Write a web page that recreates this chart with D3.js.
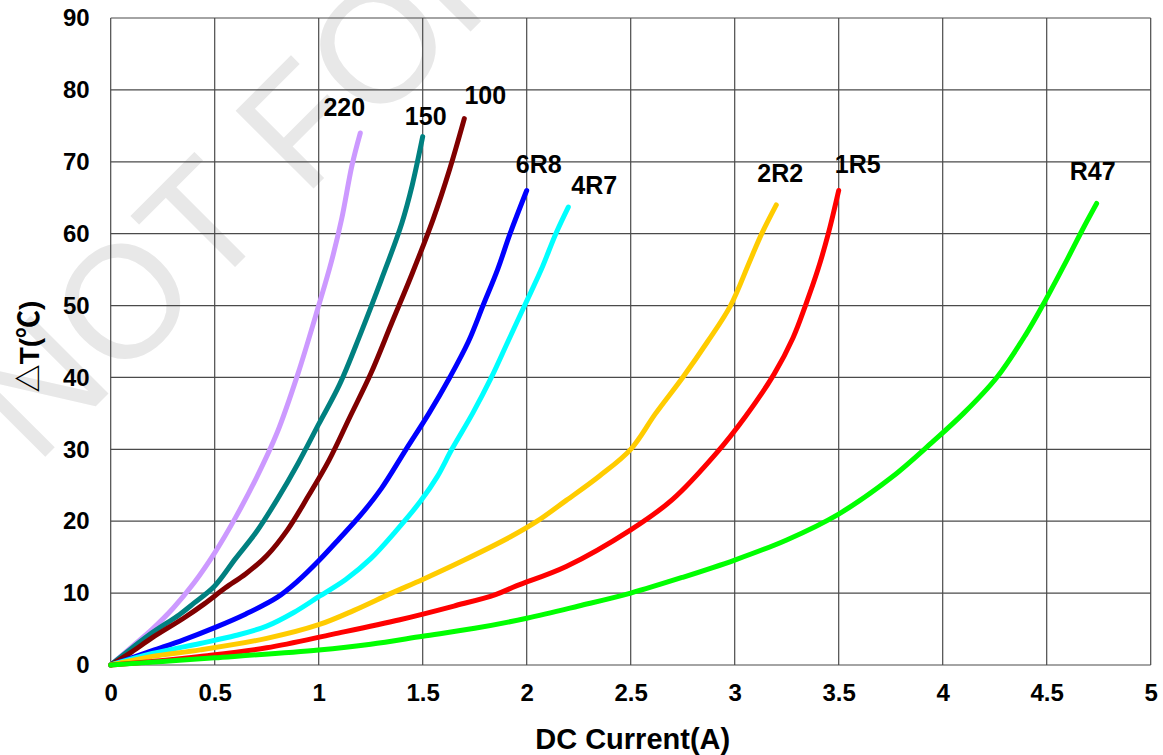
<!DOCTYPE html>
<html><head><meta charset="utf-8">
<script src="https://cdn.jsdelivr.net/npm/d3@7"></script>
<style>
html,body{margin:0;padding:0;background:#fff;}
svg{display:block;font-family:"Liberation Sans",Arial,sans-serif;}
</style></head><body>
<svg id="chart" width="1163" height="755"></svg>
<script>
// ---- data ----
const seriesNames = ["220","150","100","6R8","4R7","2R2","1R5","R47"];
const seriesColors = ["#CC99FF","#008080","#800000","#0000FF","#00FFFF","#FFCC00","#FF0000","#00FF00"];
const s220 = [[0,0],[0.1,2.5],[0.2,5],[0.3,7.9],[0.4,11.4],[0.5,15.6],[0.6,20.5],[0.7,26],[0.8,32.3],[0.9,40.5],[1.0,50],[1.06,56],[1.11,62],[1.16,69.5],[1.2,74]];
const s150 = [[0,0],[0.1,2.3],[0.2,4.5],[0.33,7],[0.4,8.6],[0.5,11],[0.6,14.8],[0.7,18.5],[0.8,23],[0.9,28],[1.0,33.5],[1.1,39],[1.2,46],[1.3,53.5],[1.4,61.5],[1.45,66.8],[1.5,73.5]];
const s100 = [[0,0],[0.1,1.8],[0.2,3.8],[0.35,6.5],[0.45,8.5],[0.55,10.7],[0.65,12.7],[0.75,15.2],[0.85,18.8],[0.95,23.5],[1.05,28.5],[1.15,34.5],[1.25,40.5],[1.35,47.5],[1.45,54.5],[1.55,62],[1.63,69],[1.7,76]];
const s6R8 = [[0,0],[0.2,2],[0.35,3.5],[0.5,5.2],[0.65,7.1],[0.8,9.4],[0.9,11.7],[1.0,14.5],[1.1,17.6],[1.2,20.8],[1.3,24.5],[1.42,30],[1.53,35],[1.63,40],[1.72,45],[1.79,50],[1.86,55],[1.92,60],[2.0,66]];
const s4R7 = [[0,0],[0.2,1.6],[0.43,3],[0.6,4.1],[0.75,5.4],[0.88,7.3],[1.0,9.5],[1.13,11.9],[1.25,14.8],[1.37,18.6],[1.49,22.8],[1.57,26.2],[1.64,30],[1.74,35],[1.83,40],[1.91,45],[1.99,50],[2.07,55],[2.14,60],[2.2,63.7]];
const s2R2 = [[0,0],[0.2,1.2],[0.43,2.1],[0.75,3.7],[1.0,5.6],[1.17,7.6],[1.35,10],[1.5,11.9],[1.7,14.6],[1.92,17.8],[2.05,20],[2.19,22.9],[2.35,26.3],[2.5,30],[2.62,35],[2.75,40],[2.87,45],[2.98,50],[3.07,56],[3.13,60],[3.2,64]];
const s1R5 = [[0,0],[0.2,0.5],[0.43,1.2],[0.75,2.4],[1.07,4.3],[1.39,6.3],[1.65,8.2],[1.85,9.8],[1.95,11],[2.19,13.7],[2.5,18.8],[2.7,23],[2.91,29.4],[3.05,34.5],[3.19,40.5],[3.28,45.5],[3.34,50],[3.4,55],[3.45,60],[3.5,66]];
const sR47 = [[0,0],[0.25,0.5],[0.5,1.0],[1.0,2.1],[1.25,2.9],[1.5,4.0],[1.75,5.1],[2.0,6.5],[2.25,8.2],[2.5,10],[2.75,12.2],[3.0,14.6],[3.25,17.4],[3.5,21],[3.75,26],[3.95,31],[4.1,35],[4.26,40],[4.4,46],[4.48,50],[4.6,56.5],[4.68,61],[4.74,64.2]];
const seriesValues = [s220,s150,s100,s6R8,s4R7,s2R2,s1R5,sR47];
const xTicks = [0,0.5,1,1.5,2,2.5,3,3.5,4,4.5,5];
const yTicks = [0,10,20,30,40,50,60,70,80,90];
const xTitle = "DC Current(A)";
const yTitle = "△T(℃)";
const watermarkText = "NOT FOR";

// ---- layout / styles ----
const W = 1163, H = 755;
const margin = {left:110.7, right:12.3, top:18, bottom:90};
const labelOffsets = [[-16,-17],[3,-12],[21,-15],[12,-18],[26,-13],[4,-23],[19,-18],[-4,-23]];

const svg = d3.select("#chart");
const x = d3.scaleLinear().domain([0,5]).range([margin.left, W-margin.right]);
const y = d3.scaleLinear().domain([0,90]).range([H-margin.bottom, margin.top]);

// watermark (partially outside the picture, as in the reference)
svg.append("text")
  .attr("transform","translate(36,466) rotate(-45)")
  .attr("font-size",160)
  .attr("fill","#e8e8e8")
  .attr("font-family","'Liberation Sans',Arial,sans-serif")
  .text(watermarkText);

// grid
const grid = svg.append("g");
grid.selectAll("line.v").data(xTicks).join("line")
  .attr("x1",d=>x(d)).attr("x2",d=>x(d))
  .attr("y1",y(0)).attr("y2",y(90))
  .attr("stroke","#4a4a4a").attr("stroke-width",1.2);
grid.selectAll("line.h").data(yTicks).join("line")
  .attr("y1",d=>y(d)).attr("y2",d=>y(d))
  .attr("x1",x(0)).attr("x2",x(5))
  .attr("stroke","#4a4a4a").attr("stroke-width",1.2);

// axes (labels only, via d3 axes)
const xAxis = svg.append("g").attr("transform",`translate(0,${y(0)})`)
  .call(d3.axisBottom(x).tickValues(xTicks).tickFormat(d=>String(d)).tickSize(0).tickPadding(19));
const yAxis = svg.append("g").attr("transform",`translate(${x(0)},0)`)
  .call(d3.axisLeft(y).tickValues(yTicks).tickFormat(d=>String(d)).tickSize(0).tickPadding(21));
[xAxis,yAxis].forEach(a=>{
  a.select(".domain").remove();
  a.selectAll("text").attr("font-size",24).attr("font-weight","bold")
   .attr("fill","#000").attr("font-family","'Liberation Sans',Arial,sans-serif");
});

// lines
const line = d3.line().x(d=>x(d[0])).y(d=>y(d[1])).curve(d3.curveCatmullRom.alpha(0.5));
svg.append("g").selectAll("path").data(seriesValues).join("path")
  .attr("d",line)
  .attr("fill","none")
  .attr("stroke",(d,i)=>seriesColors[i])
  .attr("stroke-width",5)
  .attr("stroke-linecap","round")
  .attr("stroke-linejoin","round");

// series labels
svg.append("g").selectAll("text").data(seriesValues).join("text")
  .attr("x",(d,i)=>x(d[d.length-1][0])+labelOffsets[i][0])
  .attr("y",(d,i)=>y(d[d.length-1][1])+labelOffsets[i][1])
  .attr("text-anchor","middle")
  .attr("font-size",25).attr("font-weight","bold").attr("fill","#000")
  .text((d,i)=>seriesNames[i]);

// axis titles
svg.append("text")
  .attr("x",(x(0)+x(5))/2+2).attr("y",749)
  .attr("text-anchor","middle")
  .attr("font-size",29).attr("font-weight","bold").attr("fill","#000")
  .text(xTitle);
svg.append("text")
  .attr("transform",`translate(39,${(y(0)+y(90))/2+5}) rotate(-90)`)
  .attr("text-anchor","middle")
  .attr("font-size",28).attr("font-weight","bold").attr("fill","#000")
  .attr("font-family","'Liberation Sans','Noto Sans CJK SC',sans-serif")
  .text(yTitle);
</script>
</body></html>
